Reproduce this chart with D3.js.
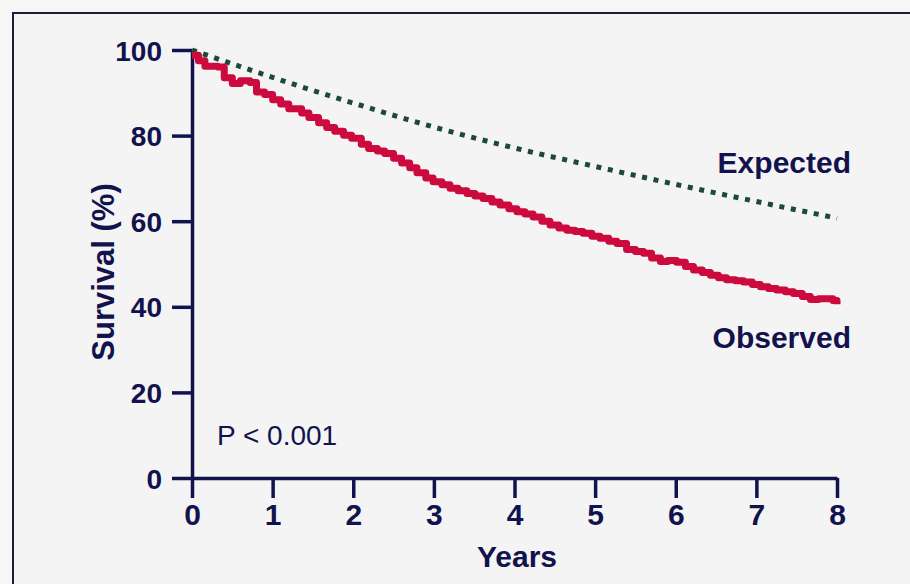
<!DOCTYPE html>
<html>
<head>
<meta charset="utf-8">
<script src="https://cdn.jsdelivr.net/npm/d3@7"></script>
<style>
  html, body { margin: 0; padding: 0; background: #f6f6f6; }
  svg { display: block; }
</style>
</head>
<body>
<div id="chart"></div>
<script>
// survival curves
const expectedYears = [0, 1, 2, 3, 4, 5, 6, 7, 8]
const expectedSurvival = [100, 93.6, 87.6, 82.0, 77.1, 72.8, 68.6, 64.6, 60.7]

const observedYears = [0, 0.08, 0.16, 0.32, 0.4, 0.5, 0.6, 0.72, 0.8, 0.9, 1.0, 1.1, 1.2, 1.36, 1.45, 1.57, 1.67, 1.77, 1.88, 1.98,
  2.1, 2.19, 2.3, 2.39, 2.5, 2.6, 2.7, 2.79, 2.9, 2.99, 3.1, 3.2, 3.3, 3.41, 3.51, 3.61, 3.72, 3.82, 3.93,
  4.03, 4.13, 4.23, 4.34, 4.44, 4.55, 4.65, 4.75, 4.85, 4.96, 5.06, 5.17, 5.27, 5.39, 5.5, 5.6, 5.7, 5.81, 5.9,
  6.01, 6.12, 6.22, 6.33, 6.43, 6.53, 6.63, 6.74, 6.84, 6.95, 7.05, 7.15, 7.25, 7.36, 7.46, 7.57, 7.67, 7.77, 7.87, 7.95, 8.0]
const observedSurvival = [98.8, 97.5, 96.2, 96.0, 93.5, 92.2, 92.8, 92.4, 90.2, 89.6, 88.4, 87.4, 86.3, 85.3, 84.2, 83.0, 81.9, 81.0, 80.1, 79.4,
  78.0, 77.0, 76.4, 75.8, 74.7, 73.6, 72.5, 71.3, 70.1, 69.2, 68.5, 67.7, 67.1, 66.5, 65.9, 65.3, 64.5, 63.8, 62.9,
  62.2, 61.7, 61.0, 60.0, 59.1, 58.4, 57.9, 57.6, 57.2, 56.5, 56.0, 55.3, 54.8, 53.4, 52.9, 52.5, 51.4, 50.6, 50.8,
  50.4, 49.4, 48.6, 48.0, 47.4, 46.8, 46.3, 46.1, 45.8, 45.2, 44.7, 44.3, 43.9, 43.5, 43.1, 42.4, 41.7, 41.9, 41.9, 41.5, 40.6]

const xTicks = [0, 1, 2, 3, 4, 5, 6, 7, 8]
const yTicks = [0, 20, 40, 60, 80, 100]

const W = 910
const H = 584
const margin = { top: 50, left: 192, right: 73, bottom: 106 }
const width = W - margin.left - margin.right
const height = H - margin.top - margin.bottom

const navy = '#12124c'
const font = 'Liberation Sans, Arial, sans-serif'

const root = d3.select('#chart')
  .append('svg')
  .attr('width', W)
  .attr('height', H)

// frame
root.append('rect')
  .attr('x', 13)
  .attr('y', 13)
  .attr('width', W + 20)
  .attr('height', H + 20)
  .attr('fill', '#f4f4f5')
  .attr('stroke', '#1b1b3a')
  .attr('stroke-width', 2)

const svg = root.append('g')
  .attr('transform', 'translate(' + margin.left + ',' + margin.top + ')')

/// Scales////
const xScale = d3.scaleLinear().domain([0, 8]).range([0, width])
const yScale = d3.scaleLinear().domain([0, 100]).range([height, 0])

// axes
const yAxis = svg.append('g')
  .attr('class', 'axis y-axis')
  .call(d3.axisLeft(yScale).tickValues(yTicks).tickSize(20).tickPadding(10).tickSizeOuter(0))
const xAxis = svg.append('g')
  .attr('class', 'axis x-axis')
  .attr('transform', 'translate(0,' + height + ')')
  .call(d3.axisBottom(xScale).tickValues(xTicks).tickSize(20).tickPadding(4).tickSizeOuter(0))

svg.selectAll('.axis path, .axis line')
  .attr('stroke', navy)
  .attr('stroke-width', 3.5)
svg.selectAll('.axis text')
  .attr('fill', navy)
  .attr('font-family', font)
  .attr('font-weight', 'bold')
yAxis.selectAll('text').attr('font-size', 28).attr('dy', '0.36em')
xAxis.selectAll('text').attr('font-size', 30).attr('dy', '0.75em')

// expected (dotted)
const expected = expectedYears.map((t, i) => ({ t: t, v: expectedSurvival[i] }))
svg.append('path')
  .datum(expected)
  .attr('class', 'expected')
  .attr('fill', 'none')
  .attr('stroke', '#1d4a38')
  .attr('stroke-width', 5)
  .attr('stroke-dasharray', '5,6.7')
  .attr('d', d3.line().curve(d3.curveMonotoneX).x(d => xScale(d.t)).y(d => yScale(d.v)))

// observed (KM steps)
const observed = observedYears.map((t, i) => ({ t: t, v: observedSurvival[i] }))
svg.append('path')
  .datum(observed)
  .attr('class', 'observed')
  .attr('fill', 'none')
  .attr('stroke', '#cc0a3e')
  .attr('stroke-width', 7)
  .attr('stroke-linejoin', 'round')
  .attr('d', d3.line().curve(d3.curveStepAfter).x(d => xScale(d.t)).y(d => yScale(d.v)))

/// text labels////
svg.append('text')
  .text('Expected')
  .attr('x', 851 - margin.left)
  .attr('y', 173 - margin.top)
  .attr('text-anchor', 'end')
  .attr('font-family', font)
  .attr('font-weight', 'bold')
  .attr('font-size', 30)
  .attr('fill', navy)

svg.append('text')
  .text('Observed')
  .attr('x', 851 - margin.left)
  .attr('y', 348 - margin.top)
  .attr('text-anchor', 'end')
  .attr('font-family', font)
  .attr('font-weight', 'bold')
  .attr('font-size', 30)
  .attr('fill', navy)

svg.append('text')
  .text('P < 0.001')
  .attr('x', 217 - margin.left)
  .attr('y', 445 - margin.top)
  .attr('font-family', font)
  .attr('font-size', 28)
  .attr('fill', navy)

svg.append('text')
  .text('Years')
  .attr('x', 517 - margin.left)
  .attr('y', 567 - margin.top)
  .attr('text-anchor', 'middle')
  .attr('font-family', font)
  .attr('font-weight', 'bold')
  .attr('font-size', 30)
  .attr('fill', navy)

svg.append('text')
  .text('Survival (%)')
  .attr('transform', 'translate(' + (114 - margin.left) + ',' + (272 - margin.top) + ') rotate(-90)')
  .attr('text-anchor', 'middle')
  .attr('font-family', font)
  .attr('font-weight', 'bold')
  .attr('font-size', 31)
  .attr('fill', navy)
</script>
</body>
</html>
